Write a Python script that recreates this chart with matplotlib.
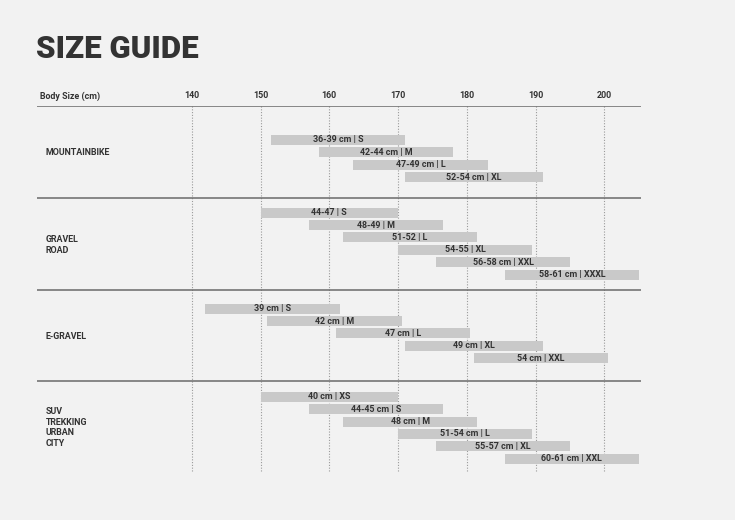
import matplotlib.pyplot as plt
import matplotlib.transforms as mtransforms

# body size ticks (cm)
ticks = [140, 150, 160, 170, 180, 190, 200]

groups = ['MOUNTAINBIKE', 'GRAVEL\nROAD', 'E-GRAVEL', 'SUV\nTREKKING\nURBAN\nCITY']

mtb_labels = ['36-39 cm | S', '42-44 cm | M', '47-49 cm | L', '52-54 cm | XL']
mtb_from = [151.5, 158.5, 163.5, 171]
mtb_to = [171, 178, 183, 191]

gravel_labels = ['44-47 | S', '48-49 | M', '51-52 | L', '54-55 | XL', '56-58 cm | XXL', '58-61 cm | XXXL']
gravel_from = [150, 157, 162, 170, 175.5, 185.5]
gravel_to = [170, 176.5, 181.5, 189.5, 195, 205]

egravel_labels = ['39 cm | S', '42 cm | M', '47 cm | L', '49 cm | XL', '54 cm | XXL']
egravel_from = [142, 151, 161, 171, 181]
egravel_to = [161.5, 170.5, 180.5, 191, 200.5]

suv_labels = ['40 cm | XS', '44-45 cm | S', '48 cm | M', '51-54 cm | L', '55-57 cm | XL', '60-61 cm | XXL']
suv_from = [150, 157, 162, 170, 175.5, 185.5]
suv_to = [170, 176.5, 181.5, 189.5, 195, 205]

bg = '#f2f2f2'
dark = '#333333'
bar_col = '#c9c9c9'
font = ['Roboto', 'DejaVu Sans']

fig = plt.figure(figsize=(7.35, 5.2), dpi=100, facecolor=bg)
W, H = 735, 520
# axes spans pixel x 37..641, y 106..473 ; y in pixel units (inverted)
ax = fig.add_axes([37 / W, (H - 473) / H, (641 - 37) / W, (473 - 106) / H])
ax.set_facecolor(bg)
px_per_cm = 6.88
ax.set_xlim(140 - (191.7 - 37) / px_per_cm, 140 + (641 - 191.7) / px_per_cm)
ax.set_ylim(473, 106)
ax.axis('off')

# layout: section boundaries, first bar y, label centre y
first_bar = [140, 212.7, 308.7, 396.7]
label_y = [152.5, 245, 336.5, 427.5]
step = 12.4
bar_h = 10

for t in ticks:
    ax.plot([t, t], [106, 473], color='#9a9a9a', lw=0.8, ls=(0, (1, 1.5)), zorder=1)
    ax.text(t, 96, str(t), ha='center', va='center', fontsize=6.4,
            fontweight='bold', color=dark, family=font)

for yb in [106, 198, 290, 381]:
    ax.axhline(yb, color='#6a6a6a', lw=1.1, zorder=3)

blend = mtransforms.blended_transform_factory(ax.transAxes, ax.transData)
ax.text(3 / 604, 96, 'Body Size (cm)', transform=blend, ha='left', va='center',
        fontsize=6.4, fontweight='bold', color=dark, family=font)

all_data = [(mtb_labels, mtb_from, mtb_to), (gravel_labels, gravel_from, gravel_to),
            (egravel_labels, egravel_from, egravel_to), (suv_labels, suv_from, suv_to)]

for g, (labels, lo, hi) in enumerate(all_data):
    for i in range(len(labels)):
        y = first_bar[g] + i * step
        ax.barh(y, hi[i] - lo[i], left=lo[i], height=bar_h, color=bar_col, zorder=2)
        ax.text((lo[i] + hi[i]) / 2, y, labels[i], ha='center', va='center',
                fontsize=6.4, fontweight='bold', color=dark, family=font, zorder=4)
    ax.text(9 / 604, label_y[g], groups[g], transform=blend, ha='left', va='center',
            fontsize=6.4, fontweight='bold', color=dark, family=font, linespacing=1.25)

fig.text(36 / W, 1 - 49 / H, 'SIZE GUIDE', ha='left', va='center', fontsize=22.5,
         fontweight='black', color=dark, family=font)

plt.savefig('out.png', dpi=100, facecolor=bg)
